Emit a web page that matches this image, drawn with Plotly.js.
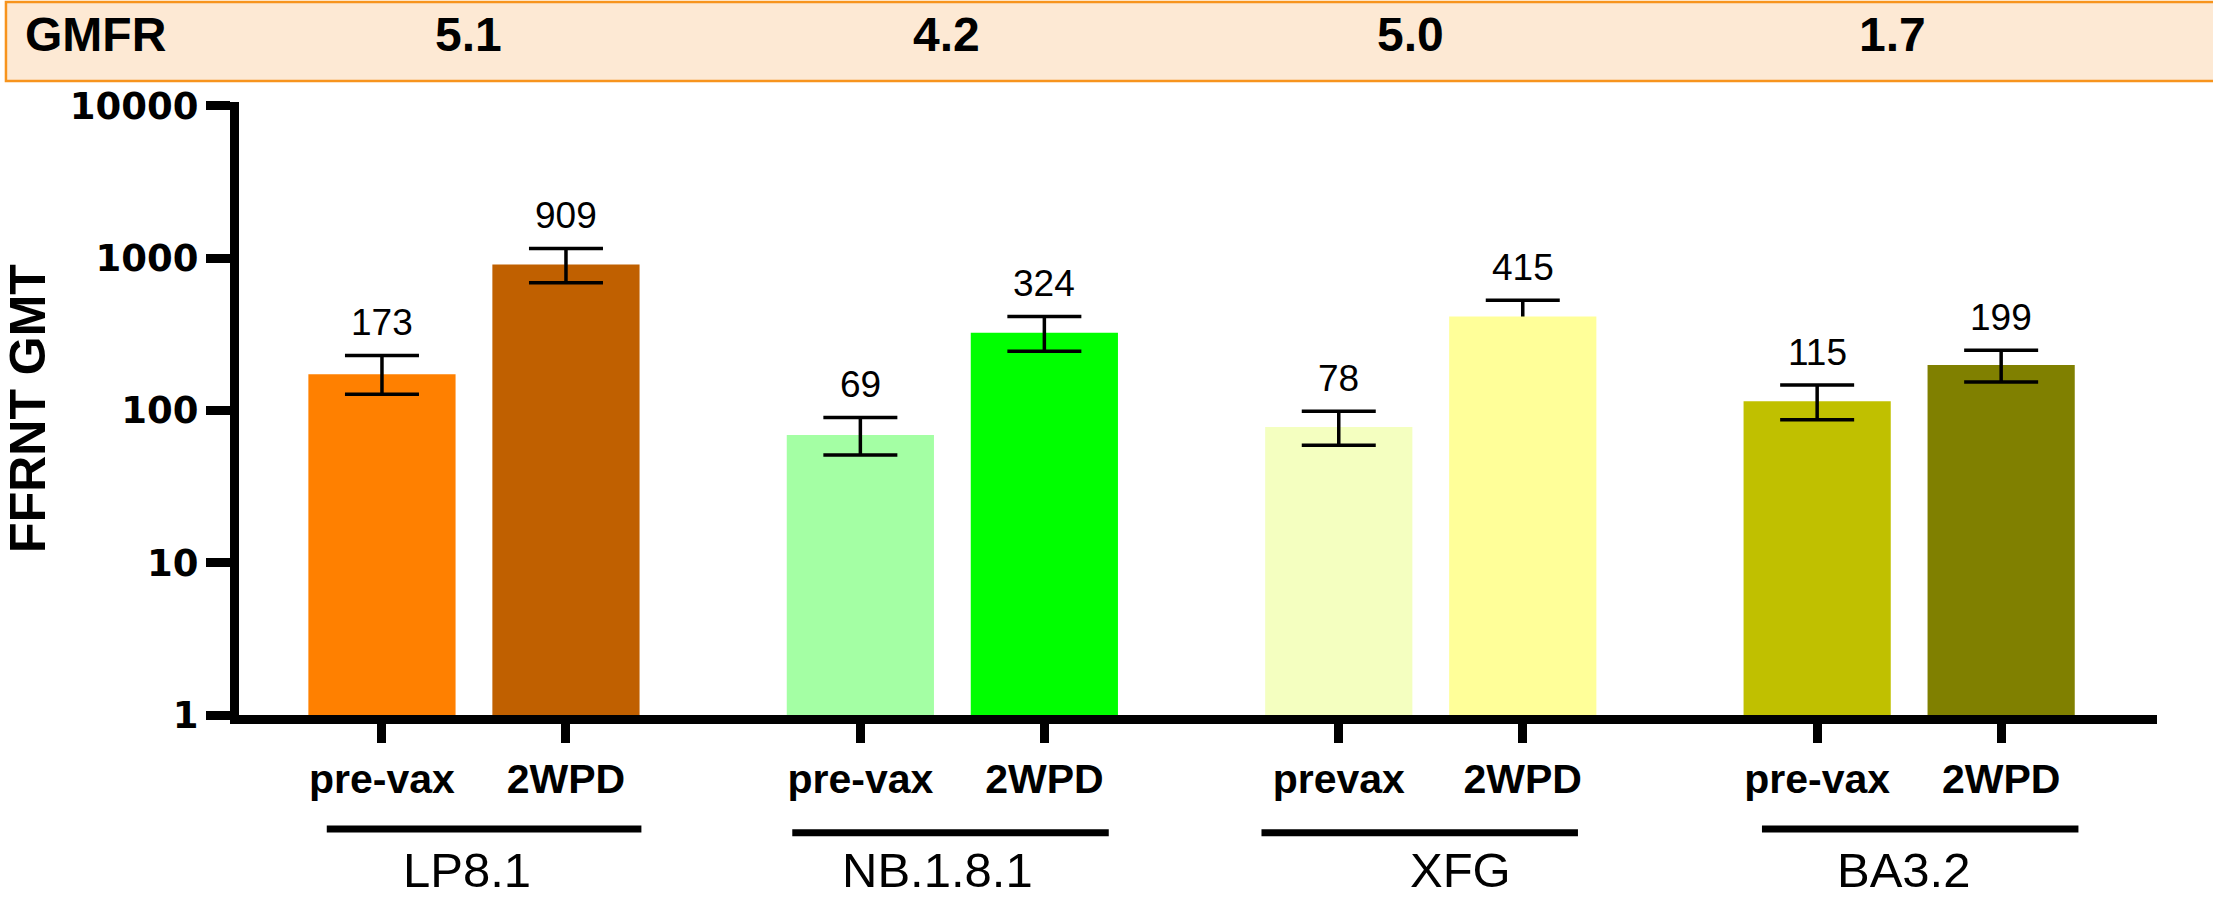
<!DOCTYPE html>
<html>
<head>
<meta charset="utf-8">
<script src="https://cdn.plot.ly/plotly-3.0.1.min.js"></script>
<style>
  html, body { margin: 0; padding: 0; background: #ffffff; }
  #chart { width: 2213px; height: 900px; }
</style>
</head>
<body>
<div id="chart"></div>
<script>
// Variants and sampling time points
const variants = ['LP8.1', 'NB.1.8.1', 'XFG', 'BA3.2'];
const timepoints = ['pre-vax', '2WPD', 'pre-vax', '2WPD', 'prevax', '2WPD', 'pre-vax', '2WPD'];

// Geometric mean titers and their confidence limits (one entry per bar)
const gmt = [173, 909, 69, 324, 78, 415, 115, 199];
const gmtUpper = [230, 1160, 90, 415, 99, 530, 147, 249];
const gmtLower = [128, 690, 51, 245, 59, 325, 87, 154];

// Geometric mean fold rise per variant
const gmfr = ['5.1', '4.2', '5.0', '1.7'];

// Y axis ticks
const yTickVals = [1, 10, 100, 1000, 10000];
const yTickText = ['1', '10', '100', '1000', '10000'];

// Styling
const barColors = ['#FF8000', '#C06000', '#A4FFA4', '#00FF00', '#F4FFC0', '#FFFF99', '#C0C000', '#808000'];
const errorBehindBar = [false, false, false, false, false, true, false, false];

// Layout helpers: two bars per variant, variants spaced 2.6 units apart
const groupStep = 2.6;
const xPos = gmt.map((_, i) => Math.floor(i / 2) * groupStep + (i % 2));
const groupLine = [[-0.30, 1.41, -0.186], [2.23, 3.95, -0.192], [4.78, 6.50, -0.192], [7.50, 9.22, -0.186]];
const groupLabelX = [0.46, 3.02, 5.86, 8.27];
const gmfrX = [0.47, 3.07, 5.59, 8.21];

const plus = gmt.map((v, i) => gmtUpper[i] - v);
const minus = gmt.map((v, i) => v - gmtLower[i]);

function errorFor(sel) {
  return {
    type: 'data', symmetric: false,
    array: plus.map((v, i) => sel(i) ? v : NaN),
    arrayminus: minus.map((v, i) => sel(i) ? v : NaN),
    color: '#000000', thickness: 3.5, width: 37
  };
}

const traces = [
  {
    // error bars that sit behind their bar
    type: 'bar', x: xPos, y: gmt, width: 0.8,
    marker: { color: 'rgba(0,0,0,0)', line: { width: 0 } },
    error_y: errorFor(i => errorBehindBar[i]),
    hoverinfo: 'skip'
  },
  {
    type: 'bar', x: xPos, y: gmt, width: 0.8,
    marker: { color: barColors, line: { width: 0 } },
    error_y: errorFor(i => !errorBehindBar[i]),
    hovertemplate: '%{y}<extra></extra>'
  }
];

const FONT = 'Arial, "Liberation Sans", sans-serif';

const annotations = [];
// value labels above each bar
gmt.forEach((v, i) => {
  annotations.push({
    x: xPos[i], y: Math.log10(gmtUpper[i]), xref: 'x', yref: 'y',
    text: String(v), showarrow: false, yanchor: 'bottom', yshift: 10,
    font: { family: FONT, size: 37, color: '#000000' }
  });
});
// variant names under the bracket lines
variants.forEach((name, g) => {
  annotations.push({
    x: groupLabelX[g], y: -0.2998, xref: 'x', yref: 'paper',
    text: name, showarrow: false, yanchor: 'bottom',
    font: { family: FONT, size: 49, color: '#000000' }
  });
});
// GMFR banner
annotations.push({
  x: -0.1125, y: 1.1093, xref: 'paper', yref: 'paper', xanchor: 'left', yanchor: 'middle',
  text: 'GMFR', showarrow: false,
  font: { family: FONT, size: 48, weight: 'bold', color: '#000000' }
});
gmfr.forEach((val, g) => {
  annotations.push({
    x: gmfrX[g], y: 1.1093, xref: 'x', yref: 'paper', yanchor: 'middle',
    text: val, showarrow: false,
    font: { family: FONT, size: 48, weight: 'bold', color: '#000000' }
  });
});

const shapes = [
  {
    type: 'rect', xref: 'paper', yref: 'paper', layer: 'below',
    x0: -0.1215, x1: 1.06, y0: 1.0343, y1: 1.1631,
    fillcolor: '#FDE9D4', line: { color: '#F7941D', width: 2.5 }
  }
];
groupLine.forEach(([a, b, yy]) => {
  shapes.push({
    type: 'line', xref: 'x', yref: 'paper', x0: a, x1: b, y0: yy, y1: yy,
    line: { color: '#000000', width: 7 }
  });
});

const layout = {
  width: 2213, height: 900,
  margin: { l: 239, r: 56, t: 102, b: 185, autoexpand: false },
  paper_bgcolor: '#ffffff', plot_bgcolor: '#ffffff',
  showlegend: false,
  barmode: 'overlay',
  xaxis: {
    range: [-0.777, 9.647], fixedrange: true,
    showline: true, linewidth: 9, linecolor: '#000000',
    ticks: 'outside', ticklen: 19, tickwidth: 9, tickcolor: '#000000',
    tickvals: xPos, ticktext: timepoints,
    tickfont: { family: FONT, size: 41, weight: 'bold', color: '#000000' },
    ticklabelstandoff: 1,
    showgrid: false, zeroline: false
  },
  yaxis: {
    type: 'log', range: [0, 4.026], fixedrange: true,
    showline: true, linewidth: 9, linecolor: '#000000',
    ticks: 'outside', ticklen: 24, tickwidth: 9, tickcolor: '#000000',
    tickvals: yTickVals, ticktext: yTickText,
    tickfont: { family: '"DejaVu Sans", sans-serif', size: 37, weight: 'bold', color: '#000000' },
    showgrid: false, zeroline: false,
    title: { text: 'FFRNT GMT', standoff: 37, font: { family: FONT, size: 50, weight: 'bold', color: '#000000' } }
  },
  annotations: annotations,
  shapes: shapes
};

Plotly.newPlot('chart', traces, layout, { displayModeBar: false, responsive: false });
</script>
</body>
</html>
